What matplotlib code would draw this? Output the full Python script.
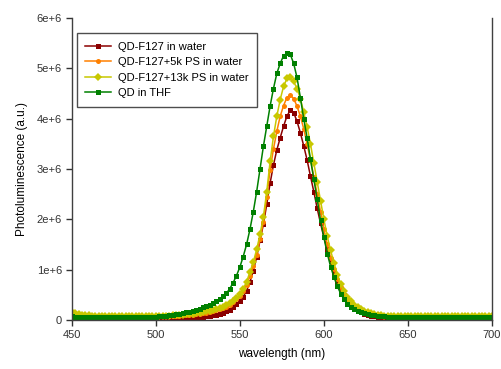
import numpy as np
import matplotlib
matplotlib.use("Agg")
import matplotlib.pyplot as plt

plt.rcParams['font.family'] = ['Liberation Sans', 'DejaVu Sans']

wavelength = np.arange(450, 701, 2)

# values in units of 1e6
qd_f127_water = [
    0.06, 0.04, 0.03, 0.03, 0.02,
    0.02, 0.02, 0.02, 0.02, 0.02, 0.02, 0.02, 0.02, 0.02, 0.02,
    0.02, 0.02, 0.02, 0.02, 0.02, 0.02, 0.02, 0.02, 0.02, 0.02,
    0.02, 0.02, 0.02, 0.02, 0.02,
    0.03, 0.03, 0.03, 0.04, 0.04, 0.04, 0.05, 0.05, 0.06, 0.06,
    0.07, 0.08, 0.09, 0.10, 0.12, 0.14, 0.17, 0.20, 0.25, 0.31,
    0.38, 0.46, 0.58, 0.75, 0.98, 1.25, 1.58, 1.90, 2.30, 2.72,
    3.08, 3.38, 3.62, 3.85, 4.05, 4.17, 4.12, 3.95, 3.72, 3.46,
    3.18, 2.86, 2.55, 2.22, 1.92, 1.64, 1.40, 1.18, 0.96, 0.78,
    0.62, 0.49, 0.38, 0.30, 0.24, 0.19, 0.15, 0.12, 0.10, 0.08,
    0.07, 0.06, 0.05, 0.05, 0.04, 0.04,
    0.04, 0.04, 0.04, 0.04, 0.04, 0.04, 0.04, 0.04, 0.04, 0.04,
    0.04, 0.04, 0.04, 0.04, 0.04, 0.04, 0.04, 0.04, 0.04, 0.04,
    0.04, 0.04, 0.04, 0.04, 0.04, 0.04, 0.04, 0.04, 0.04, 0.04,
]

qd_f127_5k = [
    0.12, 0.10, 0.09, 0.08, 0.08,
    0.07, 0.07, 0.07, 0.07, 0.07, 0.07, 0.07, 0.07, 0.07, 0.07,
    0.07, 0.07, 0.07, 0.07, 0.07, 0.07, 0.07, 0.07, 0.07, 0.07,
    0.07, 0.07, 0.07, 0.07, 0.07,
    0.07, 0.08, 0.08, 0.09, 0.09, 0.10, 0.10, 0.11, 0.12, 0.13,
    0.14, 0.15, 0.17, 0.19, 0.21, 0.23, 0.26, 0.30, 0.35, 0.41,
    0.48, 0.58, 0.70, 0.87, 1.07, 1.30, 1.60, 1.95, 2.45, 2.98,
    3.40, 3.75, 4.05, 4.26, 4.42, 4.47, 4.40, 4.25, 4.05, 3.80,
    3.50, 3.18, 2.85, 2.50, 2.15, 1.80, 1.50, 1.24, 1.01, 0.82,
    0.65, 0.52, 0.42, 0.34, 0.27, 0.22, 0.18, 0.15, 0.13, 0.11,
    0.10, 0.09, 0.08, 0.07, 0.07, 0.06,
    0.06, 0.06, 0.06, 0.06, 0.06, 0.06, 0.06, 0.06, 0.06, 0.06,
    0.06, 0.06, 0.06, 0.06, 0.06, 0.06, 0.06, 0.06, 0.06, 0.06,
    0.06, 0.06, 0.06, 0.06, 0.06, 0.06, 0.06, 0.06, 0.06, 0.06,
]

qd_f127_13k = [
    0.15, 0.13, 0.11, 0.10, 0.09,
    0.09, 0.08, 0.08, 0.08, 0.08, 0.08, 0.08, 0.08, 0.08, 0.08,
    0.08, 0.08, 0.08, 0.08, 0.08, 0.08, 0.08, 0.08, 0.08, 0.08,
    0.08, 0.08, 0.08, 0.08, 0.08,
    0.09, 0.09, 0.10, 0.10, 0.11, 0.12, 0.12, 0.13, 0.14, 0.15,
    0.17, 0.18, 0.20, 0.22, 0.24, 0.26, 0.29, 0.33, 0.38, 0.44,
    0.52, 0.62, 0.76, 0.95, 1.15, 1.40, 1.70, 2.05, 2.55, 3.15,
    3.65, 4.05, 4.38, 4.64, 4.80, 4.83, 4.74, 4.60, 4.40, 4.13,
    3.84, 3.50, 3.12, 2.75, 2.37, 2.00, 1.66, 1.38, 1.13, 0.90,
    0.71, 0.57, 0.46, 0.37, 0.30, 0.25, 0.21, 0.18, 0.16, 0.14,
    0.12, 0.10, 0.09, 0.08, 0.08, 0.07,
    0.07, 0.07, 0.07, 0.07, 0.07, 0.07, 0.07, 0.07, 0.07, 0.07,
    0.07, 0.07, 0.07, 0.07, 0.07, 0.07, 0.07, 0.07, 0.07, 0.07,
    0.07, 0.07, 0.07, 0.07, 0.07, 0.07, 0.07, 0.07, 0.07, 0.07,
]

qd_thf = [
    0.07, 0.06, 0.06, 0.06, 0.06,
    0.06, 0.05, 0.05, 0.05, 0.05, 0.05, 0.05, 0.05, 0.05, 0.05,
    0.05, 0.05, 0.05, 0.05, 0.05, 0.05, 0.05, 0.06, 0.06, 0.06,
    0.06, 0.07, 0.07, 0.08, 0.09,
    0.10, 0.11, 0.12, 0.13, 0.15, 0.16, 0.18, 0.20, 0.22, 0.25,
    0.27, 0.30, 0.33, 0.37, 0.42, 0.47, 0.53, 0.62, 0.74, 0.88,
    1.05, 1.26, 1.50, 1.80, 2.15, 2.55, 3.00, 3.45, 3.85, 4.25,
    4.60, 4.90, 5.10, 5.25, 5.30, 5.28, 5.10, 4.82, 4.42, 4.00,
    3.62, 3.20, 2.80, 2.40, 1.98, 1.64, 1.32, 1.06, 0.85, 0.67,
    0.52, 0.41, 0.32, 0.26, 0.21, 0.18, 0.15, 0.13, 0.11, 0.10,
    0.09, 0.08, 0.07, 0.07, 0.06, 0.06,
    0.05, 0.05, 0.05, 0.05, 0.05, 0.05, 0.05, 0.05, 0.05, 0.05,
    0.05, 0.05, 0.05, 0.05, 0.05, 0.05, 0.05, 0.05, 0.05, 0.05,
    0.05, 0.05, 0.05, 0.05, 0.05, 0.05, 0.05, 0.05, 0.05, 0.05,
]

series_labels = ["QD-F127 in water", "QD-F127+5k PS in water",
                 "QD-F127+13k PS in water", "QD in THF"]
series_colors = ["#8B0000", "#FF8000", "#C8C800", "#008000"]
series_markers = ["s", "o", "D", "s"]

xticks = [450, 500, 550, 600, 650, 700]
yticks = [0, 1e6, 2e6, 3e6, 4e6, 5e6, 6e6]
ytick_labels = ["0", "1e+6", "2e+6", "3e+6", "4e+6", "5e+6", "6e+6"]

fig = plt.figure(figsize=(5.02, 3.69), dpi=100)
ax = fig.add_axes([0.143, 0.133, 0.837, 0.818])

all_series = [qd_f127_water, qd_f127_5k, qd_f127_13k, qd_thf]
for vals, lab, col, mk in zip(all_series, series_labels, series_colors, series_markers):
    y = np.array(vals) * 1e6
    ax.plot(wavelength, y, color=col, lw=1.1, marker=mk, ms=3.6,
            markeredgewidth=0, label=lab)

ax.set_xlim(450, 700)
ax.set_ylim(0, 6e6)
ax.set_xticks(xticks)
ax.set_yticks(yticks)
ax.set_yticklabels(ytick_labels)
ax.tick_params(direction='out', length=4, width=1, labelsize=8,
               colors='#333333', pad=3)
for s in ['left', 'bottom', 'right']:
    ax.spines[s].set_color('#404040')
    ax.spines[s].set_linewidth(1.0)
ax.spines['top'].set_visible(False)

ax.set_xlabel("wavelength (nm)", fontsize=8.5, labelpad=6)
ax.set_ylabel("Photoluminescence (a.u.)", fontsize=8.5, labelpad=6)

leg = ax.legend(loc='upper left', bbox_to_anchor=(0.012, 0.95), fontsize=8,
                frameon=True, fancybox=False, edgecolor='#202020',
                borderaxespad=0, handlelength=2.3, borderpad=0.75,
                labelspacing=0.5, handletextpad=0.7)
leg.get_frame().set_linewidth(1.0)

fig.savefig("out.png", dpi=100)
